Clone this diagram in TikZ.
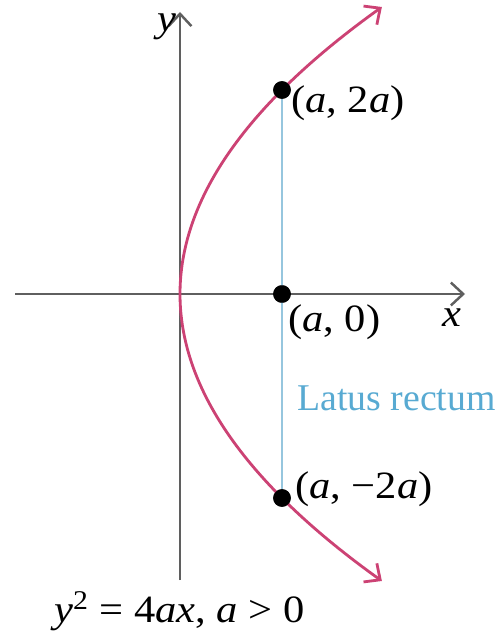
\documentclass[tikz,border=0pt]{standalone}
\usepackage{fontspec}
\setmainfont[FakeStretch=1.1]{Liberation Serif}
\newfontfamily\plainserif{Liberation Serif}
\usetikzlibrary{arrows.meta}
\definecolor{curvecol}{RGB}{204,66,116}
\definecolor{lrline}{RGB}{150,198,222}
\definecolor{lrtext}{RGB}{88,170,210}
\definecolor{axiscol}{RGB}{95,95,95}
\begin{document}
\begin{tikzpicture}[x=0.02cm,y=-0.02cm,
  axis/.style={draw=axiscol,line width=1.4pt,-{Straight Barb[length=7pt,width=13pt,line width=1.4pt]}},
  parab/.style={draw=curvecol,line width=1.6pt,{Straight Barb[length=7pt,width=13pt,line width=1.6pt]}-{Straight Barb[length=7pt,width=13pt,line width=1.6pt]}},
  lr/.style={draw=lrline,line width=1.3pt},
  dot/.style={circle,fill=black,inner sep=0pt,minimum size=10pt},
  lbl/.style={font=\fontsize{22}{26}\selectfont,inner sep=0pt}]
\useasboundingbox (0,0) rectangle (497,634);
% axes
\coordinate (xs) at (15,294);
\coordinate (xe) at (465,294);
\coordinate (ys) at (180,580);
\coordinate (ye) at (180,12);
\draw[axis] (xs) -- (xe);
\draw[axis] (ys) -- (ye);
% latus rectum points
\node[dot] (P1) at (282,90) {};
\node[dot] (F) at (282,294) {};
\node[dot] (P2) at (282,498) {};
\draw[lr] (P1) -- (P2);
% parabola x = 180 + t^2/408
\draw[parab] plot[domain=-287:287,samples=120,variable=\t] ({180+(\t/20.2)*(\t/20.2)},{294-\t});
% redraw dots on top
\node[dot] at (P1) {};
\node[dot] at (F) {};
\node[dot] at (P2) {};
% labels
\node[lbl,anchor=east] (ylab) at (177,27) {\textit{y}};
\node[lbl] (xlab) at (452,318) {\textit{x}};
\node[lbl,anchor=west] (l1) at (291,103) {(\textit{a}, 2\textit{a})};
\node[lbl,anchor=west] (l2) at (288,322) {(\textit{a}, 0)};
\node[lbl,anchor=west,text=lrtext,font=\plainserif\fontsize{21.5}{26}\selectfont] (l3) at (297,398) {Latus rectum};
\node[lbl,anchor=west] (l4) at (295,489) {(\textit{a}, −2\textit{a})};
\node[lbl,anchor=west] (cap) at (54,611) {\textit{y}\textsuperscript{2} = 4\textit{ax}, \textit{a} > 0};
\end{tikzpicture}
\end{document}
